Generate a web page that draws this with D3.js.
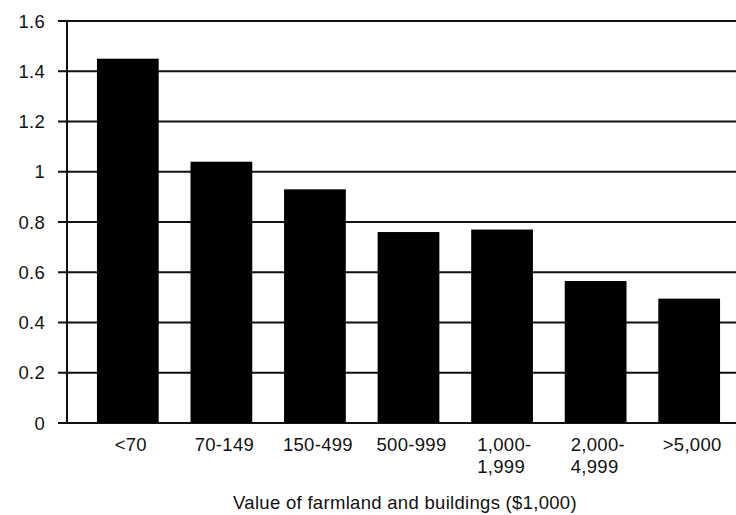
<!DOCTYPE html>
<html>
<head>
<meta charset="utf-8">
<script src="https://cdn.jsdelivr.net/npm/d3@7"></script>
<style>
  body { margin: 0; background: #fff; }
  text { font-family: "Liberation Sans", Arial, sans-serif; fill: #111; letter-spacing: 0.3px; }
</style>
</head>
<body>
<div id="graph"></div>
<script>
const w = 736;
const h = 515;
const categories = ["<70", "70-149", "150-499", "500-999", "1,000-\n1,999", "2,000-\n4,999", ">5,000"];
const values = [1.45, 1.04, 0.93, 0.76, 0.77, 0.565, 0.495];
const yTicks = [0, 0.2, 0.4, 0.6, 0.8, 1, 1.2, 1.4, 1.6];
const xTitle = "Value of farmland and buildings ($1,000)";
const fs = 18.5;

const svg = d3.select("#graph").append("svg").attr("width", w).attr("height", h);

const y = d3.scaleLinear().domain([0, 1.6]).range([423, 21]);
const x = d3.scaleBand().domain(categories).range([67, 750]).paddingInner(0.34).paddingOuter(0.32);

// gridlines + left ticks
svg.append("g")
  .selectAll("line")
  .data(yTicks)
  .enter()
  .append("line")
  .attr("x1", 58)
  .attr("x2", w)
  .attr("y1", (d) => y(d))
  .attr("y2", (d) => y(d))
  .attr("stroke", "#111")
  .attr("stroke-width", 2);

// y axis line
svg.append("line")
  .attr("x1", 67).attr("x2", 67)
  .attr("y1", y(1.6)).attr("y2", y(0))
  .attr("stroke", "#111").attr("stroke-width", 2);

svg.append("g")
  .selectAll("text")
  .data(yTicks)
  .enter()
  .append("text")
  .attr("x", 45)
  .attr("y", (d) => y(d))
  .attr("dy", "0.36em")
  .attr("text-anchor", "end")
  .attr("font-size", fs)
  .text((d) => d);

// bars
svg.append("g")
  .selectAll("rect")
  .data(values)
  .enter()
  .append("rect")
  .attr("x", (d, i) => x(categories[i]))
  .attr("width", x.bandwidth())
  .attr("y", (d) => y(d))
  .attr("height", (d) => y(0) - y(d))
  .attr("fill", "#000");

// category labels
const lab = svg.append("g")
  .selectAll("text")
  .data(categories)
  .enter()
  .append("text")
  .attr("font-size", fs)
  .attr("text-anchor", (d) => (d.includes("\n") ? "start" : "middle"))
  .attr("transform", (d) => {
    const cx = x(d) + x.bandwidth() / 2 + 3;
    return d.includes("\n") ? `translate(${x(d) + 6},451)` : `translate(${cx},451)`;
  });
lab.selectAll("tspan")
  .data((d) => d.split("\n"))
  .enter()
  .append("tspan")
  .attr("x", 0)
  .attr("dy", (d, i) => (i === 0 ? 0 : 22))
  .text((d) => d);

svg.append("text")
  .attr("x", 405)
  .attr("y", 509)
  .attr("text-anchor", "middle")
  .attr("font-size", fs)
  .text(xTitle);
</script>
</body>
</html>
